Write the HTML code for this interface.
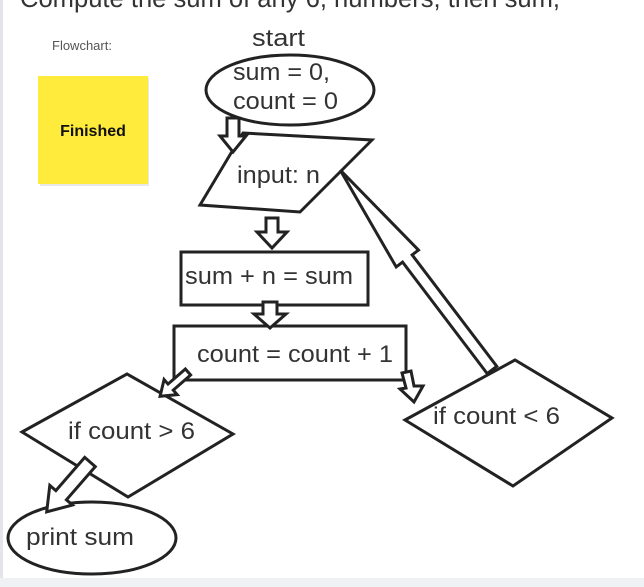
<!DOCTYPE html>
<html><head><meta charset="utf-8"><style>
html,body{margin:0;padding:0;background:#fff;width:644px;height:587px;overflow:hidden;font-family:"Liberation Sans",sans-serif}
</style></head><body>
<svg width="644" height="587" viewBox="0 0 644 587" xmlns="http://www.w3.org/2000/svg" style="position:absolute;left:0;top:0">
<rect x="0" y="0" width="644" height="587" fill="#fff"/>
<rect x="0" y="0" width="3" height="578" fill="#e3e5ea"/>
<rect x="0" y="578" width="644" height="9" fill="#f0f1f4"/>
<text x="20" y="7" font-size="26" fill="#333" textLength="540" lengthAdjust="spacingAndGlyphs">Compute the sum of any 6, numbers, then sum,</text>
<text x="52" y="50" font-size="13" fill="#555">Flowchart:</text>
<rect x="40" y="78" width="109" height="108" fill="#d8d8d8" opacity="0.6"/>
<rect x="38" y="76" width="110" height="108" fill="#ffeb3b"/>
<text x="93" y="136" font-size="16" font-weight="bold" text-anchor="middle" fill="#111">Finished</text>
<g fill="#fff" stroke="#222" stroke-width="3" stroke-linejoin="miter">
<ellipse cx="290" cy="90" rx="84" ry="35"/>
<polygon points="243,133 372,140 300,212 200,205"/>
<rect x="181" y="252" width="187" height="53"/>
<rect x="174" y="326" width="232" height="54"/>
<polygon points="22,432 127,374 233,434 128,497"/>
<polygon points="405,420 515,360 612,418 513,486"/>
<ellipse cx="92" cy="538" rx="84" ry="36"/>
<polygon points="227,118 239,118 239,136 246,136 233,152 220,136 227,136"/>
<polygon points="266,218 278,218 278,232 287,232 272,248 257,232 266,232"/>
<polygon points="263,302 277,302 277,314 286,314 270,328 254,314 263,314"/>
<polygon points="402,373 411,371 414,386 423,386 414,402 400,389 406,388"/>
<g transform="translate(188,372) rotate(139)"><polygon points="0,-4 23,-4 23,-10 37,0 23,10 23,4 0,4"/></g>
<g transform="translate(90,462) rotate(131)"><polygon points="0,-7 44,-7 44,-15 66,0 44,15 44,7 0,7"/></g>
<g transform="translate(492,370) rotate(232.8)"><polygon points="0,-6 140,-6 140,-14 251,0 140,14 140,6 0,6"/></g>
</g>
<g font-size="24" fill="#333" lengthAdjust="spacingAndGlyphs">
<text x="252" y="46" textLength="53" lengthAdjust="spacingAndGlyphs">start</text>
<text x="233" y="80" textLength="97" lengthAdjust="spacingAndGlyphs">sum = 0,</text>
<text x="233" y="109" textLength="105" lengthAdjust="spacingAndGlyphs">count = 0</text>
<text x="237" y="183" textLength="83" lengthAdjust="spacingAndGlyphs">input: n</text>
<text x="185" y="284" textLength="168" lengthAdjust="spacingAndGlyphs">sum + n = sum</text>
<text x="197" y="362" textLength="196" lengthAdjust="spacingAndGlyphs">count = count + 1</text>
<text x="68" y="439" textLength="127" lengthAdjust="spacingAndGlyphs">if count &gt; 6</text>
<text x="433" y="424" textLength="127" lengthAdjust="spacingAndGlyphs">if count &lt; 6</text>
<text x="26" y="545" textLength="108" lengthAdjust="spacingAndGlyphs">print sum</text>
</g>
</svg>
</body></html>
